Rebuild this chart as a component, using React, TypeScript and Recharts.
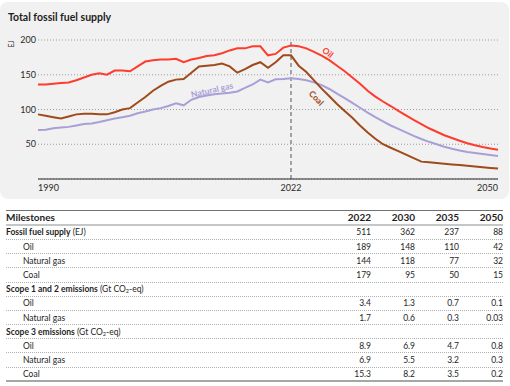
import React from 'react';
import { LineChart, Line, XAxis, YAxis, CartesianGrid, ReferenceLine, ReferenceDot } from 'recharts';

// ---------- chart data ----------
const HIST_YEARS = [1990, 1991, 1992, 1993, 1994, 1995, 1996, 1997, 1998, 1999, 2000, 2001, 2002, 2003, 2004, 2005, 2006, 2007, 2008, 2009, 2010, 2011, 2012, 2013, 2014, 2015, 2016, 2017, 2018, 2019, 2020, 2021, 2022, 2023];
const HIST_OIL = [136, 136, 137, 138, 139, 142, 146, 150, 152, 150, 156, 156, 155, 162, 169, 171, 172, 172, 173, 168, 172, 174, 177, 178, 181, 185, 188, 188, 191, 191, 178, 180, 189, 192];
const HIST_GAS = [70.5, 71, 73, 74, 75, 77, 79, 80, 82, 84.5, 87, 89, 91, 94.5, 97, 100, 102, 105, 109, 106, 114, 118, 120, 122, 123, 124, 126, 131, 136, 143, 139, 143.5, 144, 145];
const HIST_COAL = [93, 91, 89, 87, 90, 93, 94, 94, 93, 93, 96, 100, 102, 110, 118, 127, 134, 140, 143, 144, 153, 162, 163, 164, 166, 162, 153, 158, 164, 168, 160, 168, 178, 178];

const PROJ_YEARS = [2024, 2025, 2026, 2027, 2028, 2029, 2030, 2031, 2032, 2033, 2034, 2035, 2036, 2037, 2038, 2039, 2040, 2041, 2042, 2043, 2044, 2045, 2046, 2047, 2048, 2049, 2050];
const PROJ_OIL = [191, 188, 183, 177.5, 171, 163, 155, 146, 137, 127, 118.5, 111.5, 105, 98, 91.5, 85, 79, 73, 68, 63, 59, 55, 51.5, 48.5, 46, 44, 42];
const PROJ_GAS = [144, 142, 139, 135, 129.5, 123, 116.5, 109.5, 102.5, 95.5, 89, 83, 77, 72, 67, 62, 57.5, 53.5, 50, 46.5, 43.5, 41, 39, 37.5, 36, 34.5, 33];
const PROJ_COAL = [163, 154, 142, 130, 119, 108, 98, 88, 77, 67, 58, 50, 45, 40, 35, 30, 25, 24, 23, 22, 21, 20, 19, 18, 17, 16, 15];

const HIST_END = 2023;
const Y_TICKS = [50, 100, 150, 200];
const X_TICKS = [1990, HIST_END, 2050];
const X_TICK_LABELS = ['1990', '2022', '2050'];

// ---------- table data ----------
const MILESTONE_YEARS = ['2022', '2030', '2035', '2050'];
const SUPPLY_TOTAL = ['511', '362', '237', '88'];
const SUPPLY_OIL = ['189', '148', '110', '42'];
const SUPPLY_GAS = ['144', '118', '77', '32'];
const SUPPLY_COAL = ['179', '95', '50', '15'];
const S12_OIL = ['3.4', '1.3', '0.7', '0.1'];
const S12_GAS = ['1.7', '0.6', '0.3', '0.03'];
const S3_OIL = ['8.9', '6.9', '4.7', '0.8'];
const S3_GAS = ['6.9', '5.5', '3.2', '0.3'];
const S3_COAL = ['15.3', '8.2', '3.5', '0.2'];

const OIL_COLOR = '#ff3b2e';
const GAS_COLOR = '#a99fd7';
const COAL_COLOR = '#a04a1c';
const FONT = 'Lato, sans-serif';

const chartData = [
  ...HIST_YEARS.map((year, i) => ({ year, oil: HIST_OIL[i], gas: HIST_GAS[i], coal: HIST_COAL[i] })),
  ...PROJ_YEARS.map((year, i) => ({ year, oil: PROJ_OIL[i], gas: PROJ_GAS[i], coal: PROJ_COAL[i] })),
];

const XTick = (props: any) => {
  const { x, y, payload, index } = props;
  const v = payload.value;
  const anchor = v === X_TICKS[0] ? 'start' : v === X_TICKS[X_TICKS.length - 1] ? 'end' : 'middle';
  return (
    <text x={x} y={y + 10} textAnchor={anchor} fontSize={9} fill="#2b2b2b" fontFamily={FONT}>
      {X_TICK_LABELS[index]}
    </text>
  );
};

const SeriesLabel = (props: any) => {
  const { viewBox, text, color, angle } = props;
  if (!viewBox) return null;
  const cx = viewBox.x + (viewBox.width || 0) / 2;
  const cy = viewBox.y + (viewBox.height || 0) / 2;
  return (
    <text
      x={cx}
      y={cy}
      transform={`rotate(${angle} ${cx} ${cy})`}
      textAnchor="middle"
      dominantBaseline="central"
      fill={color}
      fontSize={8.5}
      fontWeight={700}
      fontFamily={FONT}
    >
      {text}
    </text>
  );
};

const UnitLabel = (props: any) => {
  const { viewBox } = props;
  if (!viewBox) return null;
  const cx = 10.5;
  const cy = 44;
  return (
    <text x={cx} y={cy} transform={`rotate(-90 ${cx} ${cy})`} textAnchor="middle" dominantBaseline="central" fontSize={7} fill="#2b2b2b" fontFamily={FONT}>
      EJ
    </text>
  );
};

const Co2 = () => (
  <span>
    CO<span style={{ fontSize: '0.65em', verticalAlign: '-0.25em' }}>2</span>
  </span>
);

type Row = { label: React.ReactNode; values?: string[]; indent?: boolean };

const ROWS: Row[] = [
  { label: <span><b>Fossil fuel supply</b> (EJ)</span>, values: SUPPLY_TOTAL },
  { label: 'Oil', values: SUPPLY_OIL, indent: true },
  { label: 'Natural gas', values: SUPPLY_GAS, indent: true },
  { label: 'Coal', values: SUPPLY_COAL, indent: true },
  { label: <span><b>Scope 1 and 2 emissions</b> (Gt <Co2 />-eq)</span> },
  { label: 'Oil', values: S12_OIL, indent: true },
  { label: 'Natural gas', values: S12_GAS, indent: true },
  { label: <span><b>Scope 3 emissions</b> (Gt <Co2 />-eq)</span> },
  { label: 'Oil', values: S3_OIL, indent: true },
  { label: 'Natural gas', values: S3_GAS, indent: true },
  { label: 'Coal', values: S3_COAL, indent: true },
];

const LABEL_W = 321;
const COL_W = 44;
const ROW_H = 14.2;

export default function App() {
  return (
    <div style={{ position: 'absolute', left: 0, top: 0, width: 510, height: 386, background: '#fff', fontFamily: FONT, color: '#1e1e1e', overflow: 'hidden' }}>
      <div style={{ position: 'absolute', left: 0, top: 2, width: 509, height: 197, background: '#f0f1f0', borderRadius: 8 }} />
      <div style={{ position: 'absolute', left: 8, top: 11, fontSize: 10.5, fontWeight: 700, color: '#1e1e1e', whiteSpace: 'nowrap' }}>
        Total fossil fuel supply
      </div>
      <div style={{ position: 'absolute', left: 0, top: 0 }}>
        <LineChart width={510} height={200} data={chartData} margin={{ top: 40, right: 12, bottom: 5, left: 8 }}>
          <CartesianGrid horizontal vertical={false} stroke="#9c9c9c" strokeDasharray="1 2" />
          <XAxis
            dataKey="year"
            type="number"
            domain={[1990, 2050]}
            ticks={X_TICKS}
            interval={0}
            tick={<XTick />}
            tickLine={false}
            tickSize={0}
            axisLine={{ stroke: '#2b2b2b', strokeWidth: 1.2 }}
            height={16}
          />
          <YAxis
            type="number"
            domain={[0, 200]}
            ticks={Y_TICKS}
            width={30}
            axisLine={false}
            tickLine={false}
            tickSize={0}
            tickMargin={2}
            tick={{ fontSize: 9, fill: '#2b2b2b', fontFamily: FONT }}
            label={{ content: (p: any) => <UnitLabel {...p} /> }}
          />
          <ReferenceLine x={HIST_END} stroke="#555" strokeDasharray="4 3" strokeWidth={1} />
          <Line type="linear" dataKey="gas" stroke={GAS_COLOR} strokeWidth={2} dot={false} isAnimationActive={false} />
          <Line type="linear" dataKey="coal" stroke={COAL_COLOR} strokeWidth={2} dot={false} isAnimationActive={false} />
          <Line type="linear" dataKey="oil" stroke={OIL_COLOR} strokeWidth={2} dot={false} isAnimationActive={false} />
          <ReferenceDot x={2027.8} y={182} r={0} fill="none" stroke="none" ifOverflow="visible"
            label={{ content: (p: any) => <SeriesLabel {...p} text="Oil" color={OIL_COLOR} angle={38} /> }} />
          <ReferenceDot x={2026.3} y={116.5} r={0} fill="none" stroke="none" ifOverflow="visible"
            label={{ content: (p: any) => <SeriesLabel {...p} text="Coal" color={COAL_COLOR} angle={47} /> }} />
          <ReferenceDot x={2012.7} y={128} r={0} fill="none" stroke="none" ifOverflow="visible"
            label={{ content: (p: any) => <SeriesLabel {...p} text="Natural gas" color={GAS_COLOR} angle={-13} /> }} />
        </LineChart>
      </div>

      <div style={{ position: 'absolute', left: 6, top: 209.5, width: LABEL_W + 4 * COL_W }}>
        <div style={{ display: 'flex', alignItems: 'center', height: 16.3, boxSizing: 'border-box', borderTop: '1px solid #6f7473', borderBottom: '2px solid #c3c7c6', fontSize: 10, fontWeight: 700 }}>
          <div style={{ width: LABEL_W }}>Milestones</div>
          {MILESTONE_YEARS.map((y) => (
            <div key={y} style={{ width: COL_W, textAlign: 'right' }}>{y}</div>
          ))}
        </div>
        {ROWS.map((r, i) => (
          <div
            key={i}
            style={{
              display: 'flex',
              alignItems: 'center',
              height: ROW_H,
              boxSizing: 'border-box',
              borderBottom: i === ROWS.length - 1 ? '2px solid #a3a7a6' : '1px dotted #b0b0b0',
              fontSize: 8.5,
              whiteSpace: 'nowrap',
            }}
          >
            <div style={{ width: LABEL_W, paddingLeft: r.indent ? 17 : 0, boxSizing: 'border-box' }}>{r.label}</div>
            {(r.values || ['', '', '', '']).map((v, j) => (
              <div key={j} style={{ width: COL_W, textAlign: 'right' }}>{v}</div>
            ))}
          </div>
        ))}
      </div>
    </div>
  );
}
